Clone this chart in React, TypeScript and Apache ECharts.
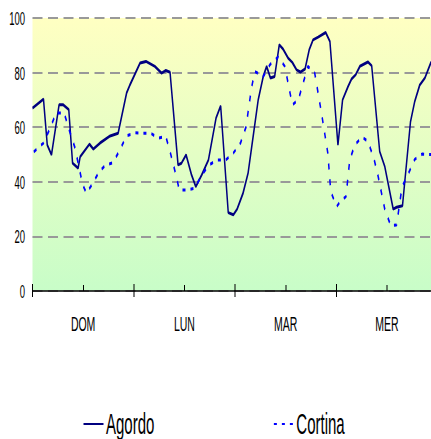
import React, { useEffect, useRef } from "react";
import * as echarts from "echarts";

const dayLabels = ["DOM", "LUN", "MAR", "MER"];
const yTicks = [0, 20, 40, 60, 80, 100];
const seriesNames = ["Agordo", "Cortina"];

const agordoHours = [0, 2.6, 3.5, 4.5, 6.3, 7.3, 8.6, 9.5, 10.8, 11.3, 13.5, 14.4, 16, 18.4, 20.3, 22.3, 23.1, 25.5, 26.9, 29, 30.6, 31.6, 32.6, 34.5, 35.3, 36.4, 37.7, 38.7, 40.1, 41.7, 43.5, 44.6, 46.4, 47.6, 48.5, 49.9, 51.1, 52.3, 53.5, 54.7, 55.5, 56.4, 57.4, 58.5, 59.4, 60.6, 61.6, 62.6, 63.5, 64.6, 65.6, 66.5, 67.7, 69.5, 70.5, 72.4, 73.5, 74.8, 75.6, 76.6, 77.6, 79.5, 80.4, 82.3, 83.5, 85.5, 86.3, 87.7, 89.6, 90.6, 91.8, 93, 94.4, 95.5];
const agordoValues = [67, 70.3, 53.5, 49.9, 68.2, 68.2, 66.4, 46.8, 45, 49.2, 53.8, 52, 54.2, 56.8, 57.8, 72.5, 75.5, 83.5, 84.1, 82.3, 79.8, 80.8, 80.1, 46.2, 46.8, 49.9, 42.5, 38.2, 42.5, 48, 63.3, 67.8, 28.7, 27.9, 30, 35.8, 43.2, 56.6, 70, 78.6, 82.3, 78, 78.6, 90.2, 88.6, 85.3, 83.7, 81, 80.2, 81.3, 88.4, 92, 93, 94.7, 91.4, 53.5, 70, 74.9, 77.6, 79.2, 82.3, 83.9, 82.5, 51.1, 45.6, 30, 30.7, 31.2, 62, 69.4, 75.5, 78, 83.5, 86];

const cortinaHours = [0.3, 2.6, 4, 5.6, 7.5, 8.7, 10.1, 10.9, 11.9, 12.8, 14.3, 15.8, 17.4, 19.1, 20.7, 22.3, 24.3, 26, 28, 29.8, 31.6, 32.7, 34, 34.8, 36.7, 38.5, 40.1, 41.9, 43.8, 45.8, 47.6, 49.3, 50.6, 51.9, 52.7, 54.7, 56.3, 58.2, 59.8, 61.6, 63, 65.3, 66.9, 68.5, 70, 70.7, 72.1, 72.9, 74.3, 75.2, 76.4, 78.1, 79.5, 80.9, 81.9, 83.5, 84.9, 86.3, 87.6, 89.1, 90.6, 92.4, 93.5, 95];
const cortinaValues = [51, 54.2, 59, 65.2, 65.2, 59, 52.3, 46.2, 38.9, 35.8, 39.5, 43.7, 46.2, 47, 51.7, 56.8, 58, 57.8, 57.8, 56, 56.6, 50.5, 42.5, 37, 37, 37.7, 42.5, 46.2, 48, 48, 50.5, 54.2, 60, 74.3, 80.4, 78.6, 82.9, 85.7, 82.3, 68.2, 70, 82.3, 79.8, 65.2, 50.5, 36.4, 30.9, 32.7, 34.6, 48, 53.5, 56.4, 54.8, 48.7, 42.2, 30, 24, 24.2, 38.2, 43, 48.2, 50.2, 50, 50];

const FONT = "'Liberation Sans', Arial, sans-serif";

function pairs(xs: number[], ys: number[]) {
  return xs.map((x, i) => [x, ys[i]]);
}

export default function App() {
  const ref = useRef<HTMLDivElement>(null);
  useEffect(() => {
    if (!ref.current) return;
    const chart = echarts.init(ref.current, undefined, { renderer: "svg" });
    chart.setOption({
      animation: false,
      backgroundColor: "#ffffff",
      grid: {
        left: 65,
        width: 810,
        top: 18,
        bottom: 148,
        show: true,
        borderWidth: 0,
        backgroundColor: new echarts.graphic.LinearGradient(0, 0, 0, 1, [
          { offset: 0, color: "#ffffc2" },
          { offset: 1, color: "#c8fdc8" },
        ]),
      },
      legend: {
        left: 161,
        top: 404,
        itemWidth: 40,
        itemHeight: 14,
        itemGap: 238,
        data: seriesNames,
        itemStyle: { opacity: 0 },
        textStyle: { fontFamily: FONT, fontSize: 30, color: "#000" },
      },
      xAxis: [
        {
          type: "value",
          min: 0,
          max: 96,
          interval: 24,
          axisLine: { show: true, lineStyle: { color: "#000", width: 1.5 } },
          axisTick: { show: true, inside: true, length: 7, lineStyle: { color: "#000", width: 2 } },
          minorTick: { show: true, splitNumber: 2, length: 6, lineStyle: { color: "#000", width: 2 } },
          axisLabel: { show: false },
          splitLine: { show: false },
        },
        {
          type: "category",
          position: "bottom",
          data: dayLabels,
          boundaryGap: true,
          axisLine: { show: false },
          axisTick: { show: true, inside: false, length: 6, lineStyle: { color: "#000", width: 2 } },
          axisLabel: { margin: 23, fontFamily: FONT, fontSize: 21, color: "#000" },
          splitLine: { show: false },
        },
      ],
      yAxis: {
        type: "value",
        min: yTicks[0],
        max: yTicks[yTicks.length - 1],
        interval: 20,
        axisLine: { show: false },
        axisTick: { show: false },
        axisLabel: { margin: 15, fontFamily: FONT, fontSize: 19, color: "#000" },
        splitLine: { show: true, lineStyle: { color: "#999999", width: 2, type: [20, 11] } },
      },
      series: [
        {
          name: seriesNames[0],
          type: "line",
          xAxisIndex: 0,
          symbol: "none",
          data: pairs(agordoHours, agordoValues),
          lineStyle: { color: "#000080", width: 3 },
          itemStyle: { color: "#000080" },
        },
        {
          name: seriesNames[1],
          type: "line",
          xAxisIndex: 0,
          symbol: "none",
          data: pairs(cortinaHours, cortinaValues),
          lineStyle: { color: "#0000ff", width: 3, type: [6, 10] },
          itemStyle: { color: "#0000ff" },
        },
      ],
    });
    return () => chart.dispose();
  }, []);
  return (
    <div style={{ position: "fixed", left: 0, top: 0, width: 431, height: 439, overflow: "hidden", background: "#fff" }}>
      <div
        ref={ref}
        style={{ width: 880, height: 439, transform: "scaleX(0.5)", transformOrigin: "0 0" }}
      />
    </div>
  );
}
